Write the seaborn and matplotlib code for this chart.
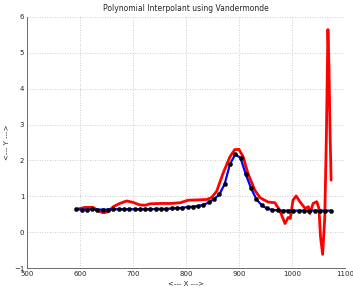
import matplotlib
matplotlib.use("Agg")
import matplotlib.pyplot as plt
import seaborn as sns

# sample points (black dots)
x_pts = [593, 603, 613, 623, 633, 643, 653, 663, 673, 683, 693, 703, 713, 723, 733,
         743, 753, 763, 773, 783, 793, 803, 813, 823, 833, 843, 853, 863, 873, 883,
         893, 903, 913, 923, 933, 943, 953, 963, 973, 983, 993, 1003, 1013, 1023,
         1033, 1043, 1053, 1063, 1073]
y_pts = [0.64, 0.63, 0.63, 0.64, 0.63, 0.63, 0.63, 0.64, 0.64, 0.64, 0.64, 0.64, 0.64,
         0.64, 0.64, 0.65, 0.65, 0.65, 0.66, 0.67, 0.68, 0.70, 0.71, 0.73, 0.76, 0.83,
         0.92, 1.05, 1.34, 1.89, 2.17, 2.07, 1.61, 1.22, 0.92, 0.75, 0.66, 0.62, 0.61,
         0.60, 0.60, 0.60, 0.60, 0.60, 0.60, 0.60, 0.60, 0.60, 0.60]

# Vandermonde interpolant (red)
x_interp = [595, 609, 625, 635, 644, 653, 663, 675, 688, 700, 713, 723, 732, 751, 770,
            789, 804, 823, 839, 848, 858, 870, 883, 892, 900, 908, 917, 930, 940, 955,
            968, 977, 987, 993, 997, 1002, 1008, 1015, 1025, 1031, 1034, 1040, 1047,
            1051, 1054, 1058, 1062, 1065, 1068, 1070, 1072, 1074]
y_interp = [0.64, 0.69, 0.69, 0.59, 0.54, 0.57, 0.71, 0.80, 0.87, 0.83, 0.76, 0.75, 0.79,
            0.80, 0.80, 0.82, 0.89, 0.90, 0.91, 0.96, 1.14, 1.64, 2.10, 2.30, 2.31, 2.10,
            1.64, 1.17, 0.96, 0.84, 0.82, 0.61, 0.24, 0.41, 0.38, 0.89, 1.01, 0.85, 0.66,
            0.71, 0.52, 0.80, 0.85, 0.66, -0.13, -0.62, 0.40, 2.60, 5.65, 4.60, 2.80, 1.45]

x_ticks = [500, 600, 700, 800, 900, 1000, 1100]
y_ticks = [-1, 0, 1, 2, 3, 4, 5, 6]

sns.set_style("white")
plt.rcParams["font.family"] = ["DejaVu Sans"]

fig = plt.figure(figsize=(3.53, 2.88), dpi=100)
ax = fig.add_axes([0.0765, 0.0694, 0.9005, 0.8716])

sns.lineplot(x=x_interp, y=y_interp, color="red", linewidth=2, sort=False, ax=ax)
sns.lineplot(x=x_pts, y=y_pts, color="blue", linewidth=1.6, sort=False, ax=ax)
sns.scatterplot(x=x_pts, y=y_pts, color="black", s=9, edgecolor="black", linewidth=0.3,
                zorder=5, ax=ax)

ax.set_xlim(500, 1100)
ax.set_ylim(-1, 6)
ax.set_xticks(x_ticks)
ax.set_yticks(y_ticks)
ax.grid(True, linestyle=(0, (1, 2)), color="#bbbbbb", linewidth=0.6)
ax.tick_params(labelsize=5, direction="in", length=2, width=0.5, color="#555555", pad=2)
for s in ["top", "right"]:
    ax.spines[s].set_visible(False)
for s in ["left", "bottom"]:
    ax.spines[s].set_color("#555555")
    ax.spines[s].set_linewidth(0.6)

ax.set_title("Polynomial Interpolant using Vandermonde", fontsize=5.5, pad=4)
ax.set_xlabel("<--- X --->", fontsize=5, labelpad=3)
ax.set_ylabel("<--- Y --->", fontsize=5, labelpad=3)

fig.savefig("out.png", dpi=100)
